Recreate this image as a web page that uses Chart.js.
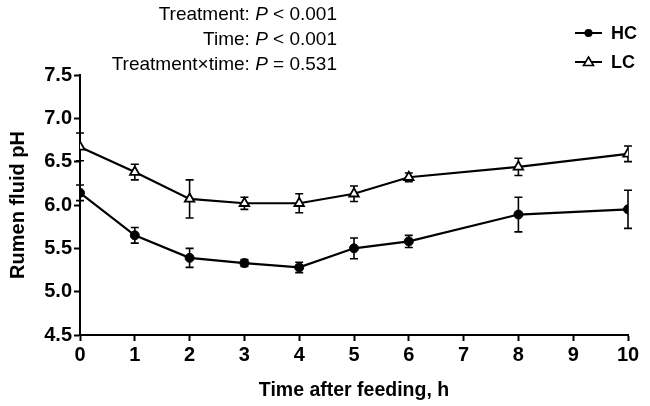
<!DOCTYPE html>
<html>
<head>
<meta charset="utf-8">
<script src="https://cdn.jsdelivr.net/npm/chart.js@4.4.1/dist/chart.umd.min.js"></script>
<style>
  html, body { margin: 0; padding: 0; background: #fff; }
  #wrap { width: 650px; height: 406px; position: relative; }
</style>
</head>
<body>
<div id="wrap"><canvas id="phChart" width="650" height="406"></canvas></div>
<script>
// values
const hours = [0, 1, 2, 3, 4, 5, 6, 8, 10];
const hcMean = [6.14, 5.65, 5.39, 5.33, 5.28, 5.50, 5.58, 5.89, 5.95];
const hcErr = [0.09, 0.09, 0.11, 0.04, 0.06, 0.12, 0.07, 0.20, 0.22];
const lcMean = [6.67, 6.38, 6.07, 6.02, 6.02, 6.13, 6.32, 6.44, 6.59];
const lcErr = [0.16, 0.09, 0.22, 0.07, 0.11, 0.09, 0.05, 0.10, 0.09];
const yTicks = [4.5, 5.0, 5.5, 6.0, 6.5, 7.0, 7.5];
const xTicks = [0, 1, 2, 3, 4, 5, 6, 7, 8, 9, 10];

const FONT = "'Liberation Sans', Arial, Helvetica, sans-serif";

function toPoints(means) {
    return hours.map((h, i) => ({ x: h, y: means[i] }));
}

// draw SEM bars behind the markers
const errorBars = {
    id: 'errorBars',
    beforeDatasetsDraw(chart) {
        const ctx = chart.ctx;
        const xs = chart.scales.x;
        const ys = chart.scales.y;
        const sets = [[hcMean, hcErr], [lcMean, lcErr]];
        ctx.save();
        ctx.strokeStyle = '#000';
        ctx.lineWidth = 1.6;
        sets.forEach(([means, errs]) => {
            hours.forEach((h, i) => {
                const x = xs.getPixelForValue(h);
                const top = ys.getPixelForValue(means[i] + errs[i]);
                const bot = ys.getPixelForValue(means[i] - errs[i]);
                ctx.beginPath();
                ctx.moveTo(x, top); ctx.lineTo(x, bot);
                ctx.moveTo(x - 4, top); ctx.lineTo(x + 4, top);
                ctx.moveTo(x - 4, bot); ctx.lineTo(x + 4, bot);
                ctx.stroke();
            });
        });
        ctx.restore();
    }
};

// statistics text and legend
const annotations = {
    id: 'annotations',
    afterDraw(chart) {
        const ctx = chart.ctx;
        ctx.save();
        ctx.fillStyle = '#000';
        ctx.textBaseline = 'alphabetic';

        const lines = [
            [['Treatment: ', ''], ['P', 'italic '], [' < 0.001', '']],
            [['Time: ', ''], ['P', 'italic '], [' < 0.001', '']],
            [['Treatment\u00d7time: ', ''], ['P', 'italic '], [' = 0.531', '']]
        ];
        const right = 337;
        lines.forEach((segs, li) => {
            let total = 0;
            segs.forEach(([t, s]) => {
                ctx.font = s + '19px ' + FONT;
                total += ctx.measureText(t).width;
            });
            let x = right - total;
            const y = 20 + li * 25;
            segs.forEach(([t, s]) => {
                ctx.font = s + '19px ' + FONT;
                ctx.textAlign = 'left';
                ctx.fillText(t, x, y);
                x += ctx.measureText(t).width;
            });
        });

        // legend
        const items = [
            { label: 'HC', y: 33, tri: false },
            { label: 'LC', y: 62, tri: true }
        ];
        items.forEach(it => {
            ctx.strokeStyle = '#000';
            ctx.lineWidth = 2;
            ctx.beginPath();
            ctx.moveTo(575, it.y); ctx.lineTo(602, it.y);
            ctx.stroke();
            if (it.tri) {
                ctx.beginPath();
                ctx.moveTo(588.5, it.y - 5);
                ctx.lineTo(593.5, it.y + 3.5);
                ctx.lineTo(583.5, it.y + 3.5);
                ctx.closePath();
                ctx.fillStyle = '#fff';
                ctx.fill();
                ctx.lineWidth = 1.6;
                ctx.stroke();
            } else {
                ctx.beginPath();
                ctx.arc(588.5, it.y, 4, 0, Math.PI * 2);
                ctx.fillStyle = '#000';
                ctx.fill();
            }
            ctx.fillStyle = '#000';
            ctx.font = 'bold 18px ' + FONT;
            ctx.textAlign = 'left';
            ctx.textBaseline = 'middle';
            ctx.fillText(it.label, 611, it.y + 1);
            ctx.textBaseline = 'alphabetic';
        });
        ctx.restore();
    }
};

const ctx = document.getElementById('phChart').getContext('2d');
new Chart(ctx, {
    type: 'line',
    data: {
        datasets: [{
            label: 'HC',
            data: toPoints(hcMean),
            borderColor: '#000',
            backgroundColor: '#000',
            borderWidth: 2.2,
            pointStyle: 'circle',
            pointRadius: 4.5,
            pointBorderWidth: 1,
            pointBackgroundColor: '#000',
            tension: 0
        }, {
            label: 'LC',
            data: toPoints(lcMean),
            borderColor: '#000',
            backgroundColor: '#fff',
            borderWidth: 2.2,
            pointStyle: 'triangle',
            pointRadius: 5.5,
            pointBorderWidth: 1.8,
            pointBackgroundColor: '#fff',
            tension: 0
        }]
    },
    options: {
        responsive: false,
        animation: false,
        devicePixelRatio: 1,
        layout: { padding: { top: 75, right: 22, left: 0, bottom: 0 } },
        plugins: { legend: { display: false }, tooltip: { enabled: false } },
        scales: {
            x: {
                type: 'linear',
                min: 0,
                max: 10,
                afterFit: scale => { scale.height = 71; },
                afterBuildTicks: scale => { scale.ticks = xTicks.map(v => ({ value: v })); },
                border: { display: true, color: '#000', width: 2 },
                grid: { drawOnChartArea: false, drawTicks: true, tickLength: 6, tickWidth: 2, tickColor: '#000' },
                ticks: { color: '#000', padding: 2, font: { family: FONT, size: 20, weight: 'bold' } },
                title: {
                    display: true,
                    text: 'Time after feeding, h',
                    color: '#000',
                    padding: { top: 13 },
                    font: { family: FONT, size: 19.5, weight: 'bold' }
                }
            },
            y: {
                min: 4.5,
                max: 7.5,
                afterFit: scale => { scale.width = 80; },
                afterBuildTicks: scale => { scale.ticks = yTicks.map(v => ({ value: v })); },
                border: { display: true, color: '#000', width: 2 },
                grid: { drawOnChartArea: false, drawTicks: true, tickLength: 6, tickWidth: 2, tickColor: '#000' },
                ticks: {
                    color: '#000',
                    padding: 2,
                    font: { family: FONT, size: 20, weight: 'bold' },
                    callback: v => v.toFixed(1)
                },
                title: {
                    display: true,
                    text: 'Rumen fluid pH',
                    color: '#000',
                    padding: { top: 6 },
                    font: { family: FONT, size: 20, weight: 'bold' }
                }
            }
        }
    },
    plugins: [errorBars, annotations]
});
</script>
</body>
</html>
